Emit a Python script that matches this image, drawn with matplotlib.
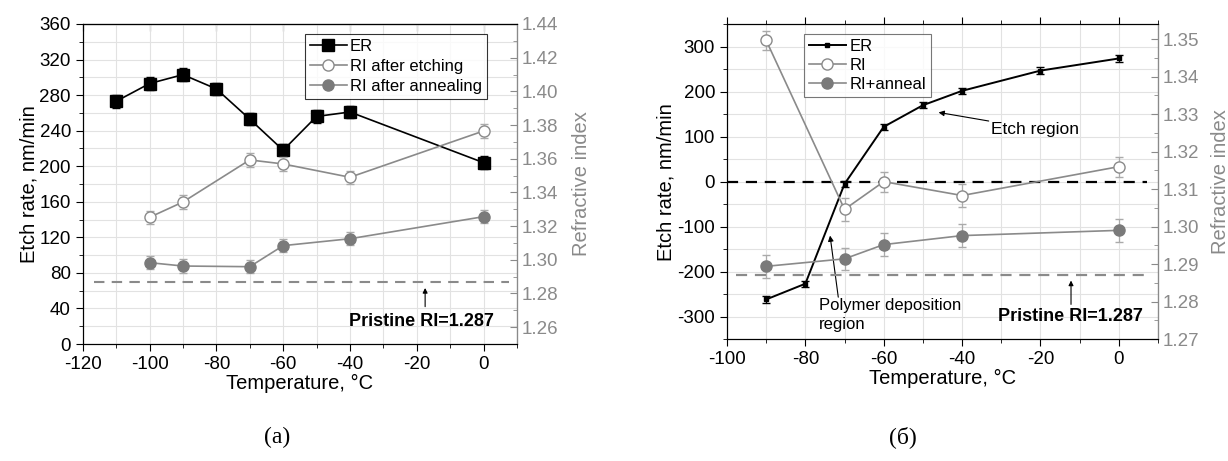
import matplotlib
matplotlib.use('Agg')
import matplotlib.pyplot as plt
from matplotlib.ticker import MultipleLocator
from matplotlib.lines import Line2D

plt.rcParams['font.family'] = ['Liberation Sans', 'DejaVu Sans']
plt.rcParams['axes.unicode_minus'] = False

# ---- panel (a) data ----
temp_a_er = [-110, -100, -90, -80, -70, -60, -50, -40, 0]
er_a = [273, 293, 303, 287, 253, 218, 256, 261, 204]
er_a_err = [7, 7, 7, 7, 7, 7, 7, 7, 7]
temp_a_ri = [-100, -90, -70, -60, -40, 0]
ri_etch_a = [1.3252, 1.3343, 1.3593, 1.3569, 1.349, 1.3765]
ri_etch_a_err = [0.004, 0.004, 0.004, 0.004, 0.004, 0.004]
ri_ann_a = [1.2983, 1.2963, 1.2959, 1.3084, 1.3125, 1.3256]
ri_ann_a_err = [0.004, 0.004, 0.004, 0.004, 0.004, 0.004]

# ---- panel (b) data ----
temp_b_er = [-90, -80, -70, -60, -50, -40, -20, 0]
er_b = [-262, -227, -5, 122, 170, 202, 247, 274]
er_b_err = [7, 7, 7, 7, 7, 7, 7, 7]
temp_b_ri = [-90, -70, -60, -40, 0]
ri_b = [1.3497, 1.3046, 1.3120, 1.3083, 1.3160]
ri_b_err = [0.0025, 0.003, 0.0027, 0.003, 0.0027]
ri_ann_b = [1.2894, 1.2914, 1.2952, 1.2976, 1.2990]
ri_ann_b_err = [0.003, 0.003, 0.003, 0.003, 0.003]

pristine_ri = 1.287

GRAY = '#8a8a8a'
MGRAY = '#7a7a7a'
GRID = '#e2e2e2'
W, H = 1228, 461

fig = plt.figure(figsize=(W / 100, H / 100), dpi=100)


def px_axes(x0, x1, ytop, ybot):
    return fig.add_axes([x0 / W, (H - ybot) / H, (x1 - x0) / W, (ybot - ytop) / H])


def style_twin(ax, ax2):
    ax.set_zorder(1)
    ax2.set_zorder(2)
    ax2.patch.set_visible(False)
    ax2.spines['right'].set_color(GRAY)
    ax2.tick_params(axis='y', which='both', direction='in', colors=GRAY,
                    labelsize=13.5, length=5)
    ax2.tick_params(axis='y', which='minor', length=3)
    ax2.yaxis.label.set_color(GRAY)
    ax.grid(which='both', color=GRID, lw=0.8)
    ax.tick_params(which='both', direction='out', labelsize=13.5, length=5)
    ax.tick_params(which='minor', length=3)


# ================= panel (a) =================
ax = px_axes(82.7, 517, 24, 344)
ax2 = ax.twinx()
style_twin(ax, ax2)

ax.errorbar(temp_a_er, er_a, yerr=er_a_err, color='black', marker='s', ms=8,
            lw=1.2, capsize=3, elinewidth=0.9, zorder=5)
ax2.errorbar(temp_a_ri, ri_etch_a, yerr=ri_etch_a_err, color=GRAY, marker='o',
             ms=8, mfc='white', mec=GRAY, lw=1.2, capsize=3, elinewidth=0.9,
             ecolor='#aaaaaa')
ax2.errorbar(temp_a_ri, ri_ann_a, yerr=ri_ann_a_err, color=GRAY, marker='o',
             ms=8, mfc=MGRAY, mec=MGRAY, lw=1.2, capsize=3, elinewidth=0.9,
             ecolor='#aaaaaa')
ax2.axhline(pristine_ri, xmin=0.026, xmax=0.982, color=GRAY, lw=1.5,
            dashes=(5, 3.5))

ax.set_xlim(-120, 10)
ax.set_ylim(0, 360)
ax2.set_ylim(1.25, 1.44)
ax.xaxis.set_major_locator(MultipleLocator(20))
ax.xaxis.set_minor_locator(MultipleLocator(10))
ax.yaxis.set_major_locator(MultipleLocator(40))
ax.yaxis.set_minor_locator(MultipleLocator(20))
ax2.yaxis.set_major_locator(MultipleLocator(0.02))
ax2.yaxis.set_minor_locator(MultipleLocator(0.01))
ax2.yaxis.set_major_formatter(plt.FormatStrFormatter('%.2f'))
top = ax.secondary_xaxis('top')
top.xaxis.set_major_locator(MultipleLocator(20))
top.xaxis.set_minor_locator(MultipleLocator(10))
top.tick_params(which='both', direction='in', labeltop=False, length=5)
top.tick_params(which='minor', length=3)

ax.set_xlabel('Temperature, °C', fontsize=14.5, labelpad=1)
ax.set_ylabel('Etch rate, nm/min', fontsize=14.5, labelpad=1)
ax2.set_ylabel('Refractive index', fontsize=14.5, labelpad=10)

ax.text(3, 25, 'Pristine RI=1.287', ha='right', va='center', fontsize=13,
        fontweight='bold', zorder=6)
ax.annotate('', xy=(-17.5, 63), xytext=(-17.5, 42),
            arrowprops=dict(arrowstyle='-|>', color='black', lw=0.8,
                            mutation_scale=7, shrinkA=0, shrinkB=0))

handles = [Line2D([], [], color='black', marker='s', ms=8, lw=1.2),
           Line2D([], [], color=GRAY, marker='o', ms=8, mfc='white', mec=GRAY, lw=1.2),
           Line2D([], [], color=GRAY, marker='o', ms=8, mfc=MGRAY, mec=MGRAY, lw=1.2)]
leg = ax2.legend(handles, ['ER', 'RI after etching', 'RI after annealing'],
                 loc='upper left', bbox_to_anchor=(0.512, 0.968), fontsize=12,
                 frameon=True, fancybox=False, edgecolor='black',
                 handlelength=2.2, handletextpad=0.2, borderpad=0.3,
                 labelspacing=0.3, borderaxespad=0)
leg.get_frame().set_linewidth(0.8)

# ================= panel (b) =================
bx = px_axes(727, 1158, 24.3, 339)
bx2 = bx.twinx()
style_twin(bx, bx2)

bx.errorbar(temp_b_er, er_b, yerr=er_b_err, color='black', marker='s', ms=3,
            lw=1.4, capsize=3, elinewidth=0.9, zorder=5)
bx2.errorbar(temp_b_ri, ri_b, yerr=ri_b_err, color=GRAY, marker='o', ms=8,
             mfc='white', mec=GRAY, lw=1.2, capsize=3, elinewidth=0.9,
             ecolor='#aaaaaa')
bx2.errorbar(temp_b_ri, ri_ann_b, yerr=ri_ann_b_err, color=GRAY, marker='o',
             ms=8, mfc=MGRAY, mec=MGRAY, lw=1.2, capsize=3, elinewidth=0.9,
             ecolor='#aaaaaa')
bx.axhline(0, xmin=0.0, xmax=0.975, color='black', lw=1.6, dashes=(5, 3.5))
bx2.axhline(pristine_ri, xmin=0.02, xmax=0.98, color=GRAY, lw=1.6,
            dashes=(5, 3.5))

bx.set_xlim(-100, 10)
bx.set_ylim(-350, 350)
bx2.set_ylim(1.27, 1.354)
bx.xaxis.set_major_locator(MultipleLocator(20))
bx.xaxis.set_minor_locator(MultipleLocator(10))
bx.yaxis.set_major_locator(MultipleLocator(100))
bx.yaxis.set_minor_locator(MultipleLocator(50))
bx2.yaxis.set_major_locator(MultipleLocator(0.01))
bx2.yaxis.set_minor_locator(MultipleLocator(0.005))
bx2.yaxis.set_major_formatter(plt.FormatStrFormatter('%.2f'))
bx.tick_params(axis='x', which='both', top=True)

bx.set_xlabel('Temperature, °C', fontsize=14.5, labelpad=1)
bx.set_ylabel('Etch rate, nm/min', fontsize=14.5, labelpad=1)
bx2.set_ylabel('Refractive index', fontsize=14.5, labelpad=8)

bx.text(6.2, -299, 'Pristine RI=1.287', ha='right', va='center', fontsize=13,
        fontweight='bold', zorder=6)
bx.annotate('', xy=(-12.2, -220), xytext=(-12.2, -273),
            arrowprops=dict(arrowstyle='-|>', color='black', lw=0.8,
                            mutation_scale=7, shrinkA=0, shrinkB=0))
bx.annotate('Etch region', xy=(-46, 154), xytext=(-32.5, 117), fontsize=12.5,
            ha='left', va='center',
            arrowprops=dict(arrowstyle='-|>', color='black', lw=0.8,
                            mutation_scale=8, shrinkA=0, shrinkB=0))
bx.annotate('', xy=(-73.7, -120), xytext=(-71.6, -257),
            arrowprops=dict(arrowstyle='-|>', color='black', lw=0.8,
                            mutation_scale=8, shrinkA=0, shrinkB=0))
bx.text(-76.5, -296, 'Polymer deposition\nregion', fontsize=12, ha='left',
        va='center', linespacing=1.35)

handles_b = [Line2D([], [], color='black', marker='s', ms=3, lw=1.4),
             Line2D([], [], color=GRAY, marker='o', ms=8, mfc='white', mec=GRAY, lw=1.2),
             Line2D([], [], color=GRAY, marker='o', ms=8, mfc=MGRAY, mec=MGRAY, lw=1.2)]
leg_b = bx2.legend(handles_b, ['ER', 'RI', 'RI+anneal'], loc='upper left',
                   bbox_to_anchor=(0.179, 0.97), fontsize=12, frameon=True,
                   fancybox=False, edgecolor='#555555', handlelength=2.2,
                   handletextpad=0.2, borderpad=0.3, labelspacing=0.25,
                   borderaxespad=0)
leg_b.get_frame().set_linewidth(0.8)

# captions
fig.text(277 / W, 1 - 437 / H, '(a)', fontsize=17, ha='center', va='center',
         family='Liberation Serif')
fig.text(903 / W, 1 - 437 / H, '(б)', fontsize=17, ha='center', va='center',
         family='Liberation Serif')

fig.savefig('out.png', dpi=100)
